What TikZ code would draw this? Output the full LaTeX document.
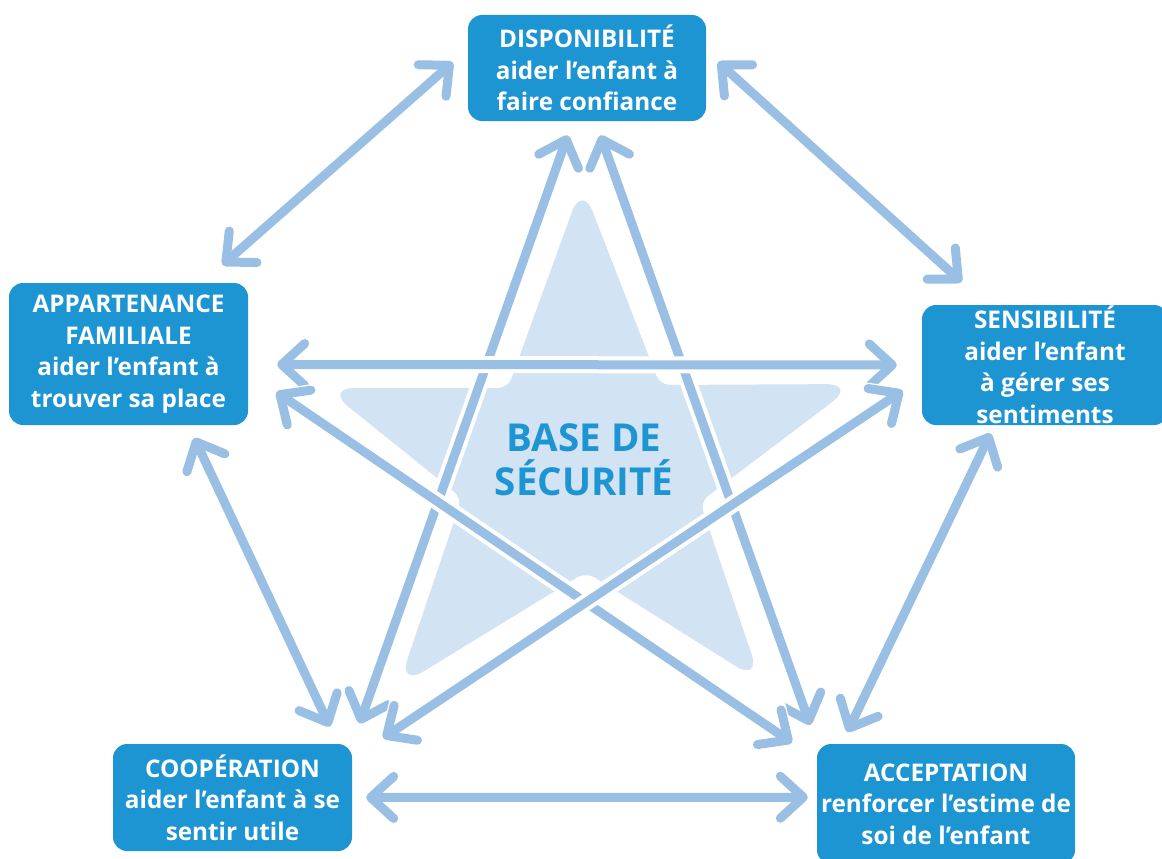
\documentclass[tikz,border=0pt]{standalone}
\usepackage{fontspec}
\setmainfont{Open Sans}
\usetikzlibrary{arrows.meta}

\definecolor{boxblue}{HTML}{1E95D3}
\definecolor{arrowblue}{HTML}{9ABFE4}
\definecolor{starbg}{HTML}{D2E3F3}

\begin{document}
\begin{tikzpicture}[x=1pt, y=-1pt,
  pillar/.style={fill=boxblue, rounded corners=14pt, inner sep=0pt, align=center,
    text=white, font=\bfseries\fontsize{24.3}{31.5}\selectfont},
  link/.style={draw=arrowblue, line width=9pt, line cap=round,
    {Straight Barb[length=23pt,width=42pt,round]}-{Straight Barb[length=23pt,width=42pt,round]},
    preaction={draw=white, line width=17pt}}]
  \useasboundingbox (0,0) rectangle (1162,859);

  % Star in the middle (sharp-ish tips, soft inner corners)
  \fill[starbg, rounded corners=10pt] (582,184)
    -- (660,385) [rounded corners=30pt] -- (856,384) [rounded corners=10pt]
    -- (700,502) [rounded corners=30pt] -- (761,682) [rounded corners=10pt]
    -- (586,572) [rounded corners=30pt] -- (398,687) [rounded corners=10pt]
    -- (462,498) [rounded corners=30pt] -- (325,388) [rounded corners=10pt]
    -- (508,388) [rounded corners=30pt] -- cycle;
  \node[text=boxblue, align=center, font=\bfseries\fontsize{38.5}{44}\selectfont]
    (base) at (584,460) {BASE DE\\SÉCURITÉ};

  % The five pillars
  \node[pillar, minimum width=238pt, minimum height=106pt] (disp) at (587,68)
    {DISPONIBILITÉ\\aider l’enfant à\\faire confiance};
  \node[pillar, minimum width=239pt, minimum height=142pt] (app) at (128.5,354)
    {APPARTENANCE\\FAMILIALE\\aider l’enfant à\\trouver sa place};
  \node[pillar, minimum width=246pt, minimum height=120pt] (sens) at (1045,365)
    {SENSIBILITÉ\\aider l’enfant\\à gérer ses\\sentiments};
  \node[pillar, minimum width=239pt, minimum height=107pt] (coop) at (232.5,797.5)
    {COOPÉRATION\\aider l’enfant à se\\sentir utile};
  \node[pillar, minimum width=258pt, minimum height=120pt] (acc) at (946,804)
    {ACCEPTATION\\renforcer l’estime de\\soi de l’enfant};

  % Outer ring
  \draw[link, shorten <=20pt, shorten >=27pt] (disp.171) -- (app.44);
  \draw[link, shorten <=16pt, shorten >=34pt] (disp.8) -- (sens.134);
  \draw[link, shorten <=9pt, shorten >=13pt] (sens.230) -- (acc.150);
  \draw[link, shorten <=9pt, shorten >=14pt] (acc.177) -- (coop.east);
  \draw[link, shorten <=19pt, shorten >=14pt] (coop.27) -- (app.310);

  % Inner star
  \draw[link, shorten <=15pt, shorten >=22pt] (disp.255) -- (coop.24);
  \draw[link, shorten <=15pt, shorten >=20pt] (disp.279) -- (acc.155);
  \draw[link, shorten <=29pt, shorten >=25pt] (app.355) -- (sens.west);
  \draw[link, shorten <=34pt, shorten >=30pt] (app.351) -- (acc.161);
  \draw[link, shorten <=23pt, shorten >=37pt] (sens.186) -- (coop.18);
\end{tikzpicture}
\end{document}
